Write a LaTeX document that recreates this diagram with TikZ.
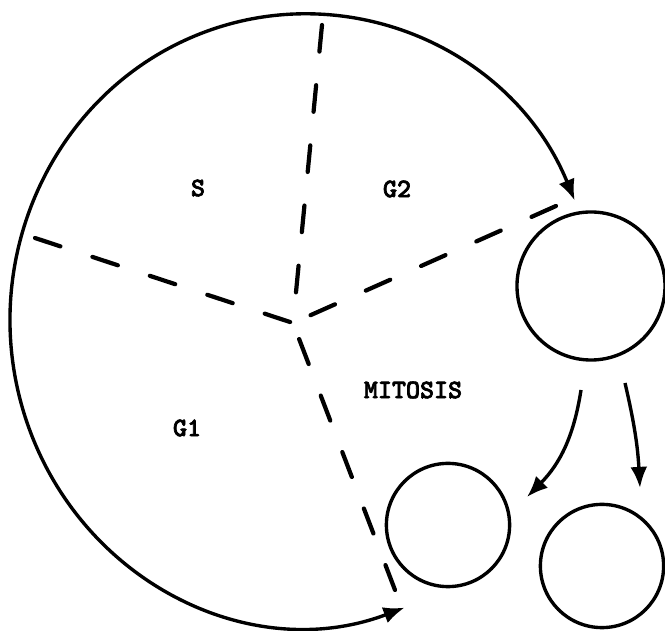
\documentclass[tikz,border=0pt]{standalone}
\usepackage{fontspec}
\newfontfamily\phasefont{lmmonolt10-bold}[Extension=.otf, FakeBold=2.5]
\usetikzlibrary{arrows.meta}
\begin{document}
\begin{tikzpicture}[x=0.025cm, y=0.025cm,
        cell/.style={draw, circle, line width=2.4pt, inner sep=0pt},
        divider/.style={line width=3pt, line cap=round, dash pattern=on 19pt off 24pt},
        arr/.style={line width=2.4pt, -{Latex[length=15pt, width=12pt]}},
        phase/.style={font=\fontsize{19}{21}\selectfont\phasefont}]
    \useasboundingbox (0,0) rectangle (665,631);
    % Zellzyklus: Mittelpunkt und Enden der Trennlinien
    \coordinate (hub) at (293,308);
    \coordinate (up) at (322,606);
    \coordinate (left) at (35,393);
    \coordinate (right) at (556,425);
    \coordinate (down) at (395,41);
    \foreach \e in {up,left,right,down} {\draw[divider] (\e) -- (hub);}
    % Phasen
    \node[phase] (s) at (198,443) {S};
    \node[phase] (g2) at (397,442) {G2};
    \node[phase] (g1) at (187,203) {G1};
    \node[phase] (mit) at (413,241) {MITOSIS};
    % grosser Bogen mit Pfeilen an beiden Enden
    \coordinate (loopstart) at (404.6,23.4);
    \draw[line width=2.4pt, {Latex[length=15pt, width=12pt]}-{Latex[length=15pt, width=12pt]}]
        (loopstart) arc[start angle=-70, end angle=-337, x radius=294, y radius=306];
    % Mutterzelle und Tochterzellen
    \node[cell, minimum size=3.7cm] (parent) at (591,345) {};
    \node[cell, minimum size=3.08cm] (daughterA) at (448,106) {};
    \node[cell, minimum size=3.08cm] (daughterB) at (602,65) {};
    % Teilung
    \coordinate (splitA) at (581,241);
    \coordinate (tipA) at (527,134);
    \coordinate (splitB) at (625,248);
    \coordinate (tipB) at (640,143);
    \draw[arr] (splitA) to[bend left=18] (tipA);
    \draw[arr] (splitB) to[bend left=5] (tipB);
\end{tikzpicture}
\end{document}
